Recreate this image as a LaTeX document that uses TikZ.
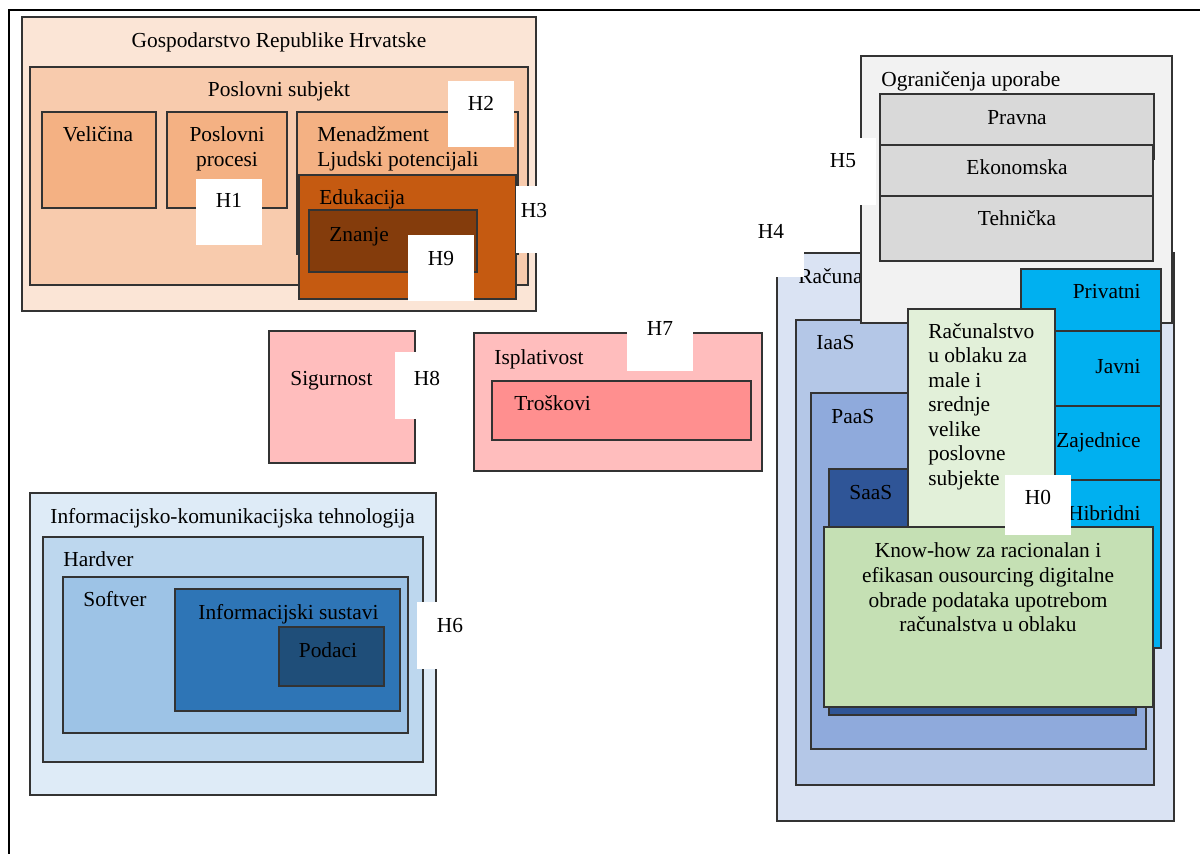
\documentclass[tikz,border=0pt]{standalone}
\usepackage{fontspec}
\setmainfont{Liberation Serif}
\newcommand\diafont{\fontsize{10.7}{12.25}\selectfont}
\definecolor{cGosp}{HTML}{FBE5D6}
\definecolor{cPosl}{HTML}{F8CBAD}
\definecolor{cSub}{HTML}{F4B183}
\definecolor{cEdu}{HTML}{C55A11}
\definecolor{cZna}{HTML}{843C0C}
\definecolor{cPink}{HTML}{FFBDBD}
\definecolor{cTros}{HTML}{FF8F8F}
\definecolor{cIct}{HTML}{DEEBF7}
\definecolor{cHard}{HTML}{BDD7EE}
\definecolor{cSoft}{HTML}{9DC3E6}
\definecolor{cIS}{HTML}{2E75B6}
\definecolor{cPod}{HTML}{1F4E79}
\definecolor{cRac}{HTML}{DAE3F3}
\definecolor{cIaas}{HTML}{B4C7E7}
\definecolor{cPaas}{HTML}{8FAADC}
\definecolor{cSaas}{HTML}{2F5597}
\definecolor{cOgr}{HTML}{F2F2F2}
\definecolor{cOgrIn}{HTML}{D9D9D9}
\definecolor{cDep}{HTML}{00B0F0}
\definecolor{cMale}{HTML}{E2F0D9}
\definecolor{cKnow}{HTML}{C5E0B4}
\begin{document}
\begin{tikzpicture}[x=0.5pt,y=-0.5pt,
  box/.style={draw=black!80, line width=0.6pt},
  hbox/.style={fill=white},
  lbl/.style={font=\diafont, inner sep=0pt, anchor=base west},
  clbl/.style={font=\diafont, inner sep=0pt, anchor=base},
  rlbl/.style={font=\diafont, inner sep=0pt, anchor=base east}]
\useasboundingbox (0,0) rectangle (1200,854);
\fill[white] (0,0) rectangle (1200,854);
\draw[line width=1pt] (8.5,854) -- (8.5,10) -- (1200,10);

% ---- Gospodarstvo group
\filldraw[box, fill=cGosp] (22,17) rectangle (536,311);
\node[clbl] (tGosp) at (279,48) {Gospodarstvo Republike Hrvatske};
\filldraw[box, fill=cPosl] (30,67) rectangle (528,285);
\node[clbl] (tPosl) at (279,97) {Poslovni subjekt};
\filldraw[box, fill=cSub] (42,112) rectangle (156,208);
\node[clbl] (tVel) at (98,142) {Veličina};
\filldraw[box, fill=cSub] (167,112) rectangle (287,208);
\node[clbl] (tPro1) at (227,142) {Poslovni};
\node[clbl] (tPro2) at (227,167) {procesi};
\filldraw[box, fill=cSub] (297,112) rectangle (518,254);
\node[lbl] (tMen1) at (317,142) {Menadžment};
\node[lbl] (tMen2) at (317,167) {Ljudski potencijali};
\filldraw[box, fill=cEdu] (299,175) rectangle (516,299);
\node[lbl] (tEdu) at (319,205) {Edukacija};
\filldraw[box, fill=cZna] (309,210) rectangle (477,272);
\node[lbl] (tZna) at (329,242) {Znanje};
\fill[hbox] (196,179) rectangle (262,245);
\node[clbl] (h1) at (229,208) {H1};
\fill[hbox] (448,81) rectangle (514,147);
\node[clbl] (h2) at (481,111) {H2};
\fill[hbox] (516,186) rectangle (552,253);
\node[clbl] (h3) at (534,218) {H3};
\fill[hbox] (408,235) rectangle (474,301);
\node[clbl] (h9) at (441,266) {H9};

% ---- Sigurnost / Isplativost
\filldraw[box, fill=cPink] (269,331) rectangle (415,463);
\node[lbl] (tSig) at (290,386) {Sigurnost};
\filldraw[box, fill=cPink] (474,333) rectangle (762,471);
\node[lbl] (tIsp) at (494,365) {Isplativost};
\filldraw[box, fill=cTros] (492,381) rectangle (751,440);
\node[lbl] (tTro) at (514,411) {Troškovi};
\fill[hbox] (395,352) rectangle (461,419);
\node[clbl] (h8) at (427,386) {H8};
\fill[hbox] (627,300) rectangle (693,371);
\node[clbl] (h7) at (660,336) {H7};

% ---- ICT group
\filldraw[box, fill=cIct] (30,493) rectangle (436,795);
\node[lbl] (tIct) at (50,524) {Informacijsko-komunikacijska tehnologija};
\filldraw[box, fill=cHard] (43,537) rectangle (423,762);
\node[lbl] (tHard) at (63,567) {Hardver};
\filldraw[box, fill=cSoft] (63,577) rectangle (408,733);
\node[lbl] (tSoft) at (83,607) {Softver};
\filldraw[box, fill=cIS] (175,589) rectangle (400,711);
\node[lbl] (tIS) at (198,620) {Informacijski sustavi};
\filldraw[box, fill=cPod] (279,627) rectangle (384,686);
\node[clbl] (tPod) at (328,658) {Podaci};
\fill[hbox] (417,602) rectangle (483,669);
\node[clbl] (h6) at (450,633) {H6};

% ---- Cloud group
\filldraw[box, fill=cRac] (777,253) rectangle (1174,821);
\node[lbl] (tRac) at (798,284) {Računa};
\filldraw[box, fill=cIaas] (796,320) rectangle (1154,785);
\node[lbl] (tIaas) at (816,350) {IaaS};
\filldraw[box, fill=cPaas] (811,393) rectangle (1146,749);
\node[lbl] (tPaas) at (831,424) {PaaS};
\filldraw[box, fill=cSaas] (829,469) rectangle (1136,715);
\node[lbl] (tSaas) at (849,500) {SaaS};

\filldraw[box, fill=cOgr] (861,56) rectangle (1172,323);
\node[lbl] (tOgr) at (881,87) {Ograničenja uporabe};
\filldraw[box, fill=cOgrIn] (880,94) rectangle (1154,159);
\node[clbl] (tPra) at (1017,125) {Pravna};
\filldraw[box, fill=cOgrIn] (880,145) rectangle (1153,208);
\node[clbl] (tEko) at (1017,175) {Ekonomska};
\filldraw[box, fill=cOgrIn] (880,196) rectangle (1153,261);
\node[clbl] (tTeh) at (1017,226) {Tehnička};

\filldraw[box, fill=cDep] (1021,269) rectangle (1161,331);
\node[rlbl] (tPriv) at (1141,299) {Privatni};
\filldraw[box, fill=cDep] (1021,331) rectangle (1161,406);
\node[rlbl] (tJav) at (1141,374) {Javni};
\filldraw[box, fill=cDep] (1021,406) rectangle (1161,480);
\node[rlbl] (tZaj) at (1141,448) {Zajednice};
\filldraw[box, fill=cDep] (1021,480) rectangle (1161,648);
\node[rlbl] (tHib) at (1141,521) {Hibridni};

\filldraw[box, fill=cMale] (908,309) rectangle (1055,560);
\node[lbl] (m1) at (928,338.5) {Računalstvo};
\node[lbl] (m2) at (928,363) {u oblaku za};
\node[lbl] (m3) at (928,387.5) {male i};
\node[lbl] (m4) at (928,412) {srednje};
\node[lbl] (m5) at (928,436.5) {velike};
\node[lbl] (m6) at (928,461) {poslovne};
\node[lbl] (m7) at (928,485.5) {subjekte};

\filldraw[box, fill=cKnow] (824,527) rectangle (1153,707);
\node[clbl] (k1) at (988,558) {Know-how za racionalan i};
\node[clbl] (k2) at (988,583) {efikasan ousourcing digitalne};
\node[clbl] (k3) at (988,607.5) {obrade podataka upotrebom};
\node[clbl] (k4) at (988,632) {računalstva u oblaku};

\fill[hbox] (1005,475) rectangle (1071,535);
\node[clbl] (h0) at (1038,505) {H0};
\fill[hbox] (738,211) rectangle (804,277);
\node[clbl] (h4) at (771,239) {H4};
\fill[hbox] (810,138) rectangle (876,205);
\node[clbl] (h5) at (843,168) {H5};
\end{tikzpicture}
\end{document}
